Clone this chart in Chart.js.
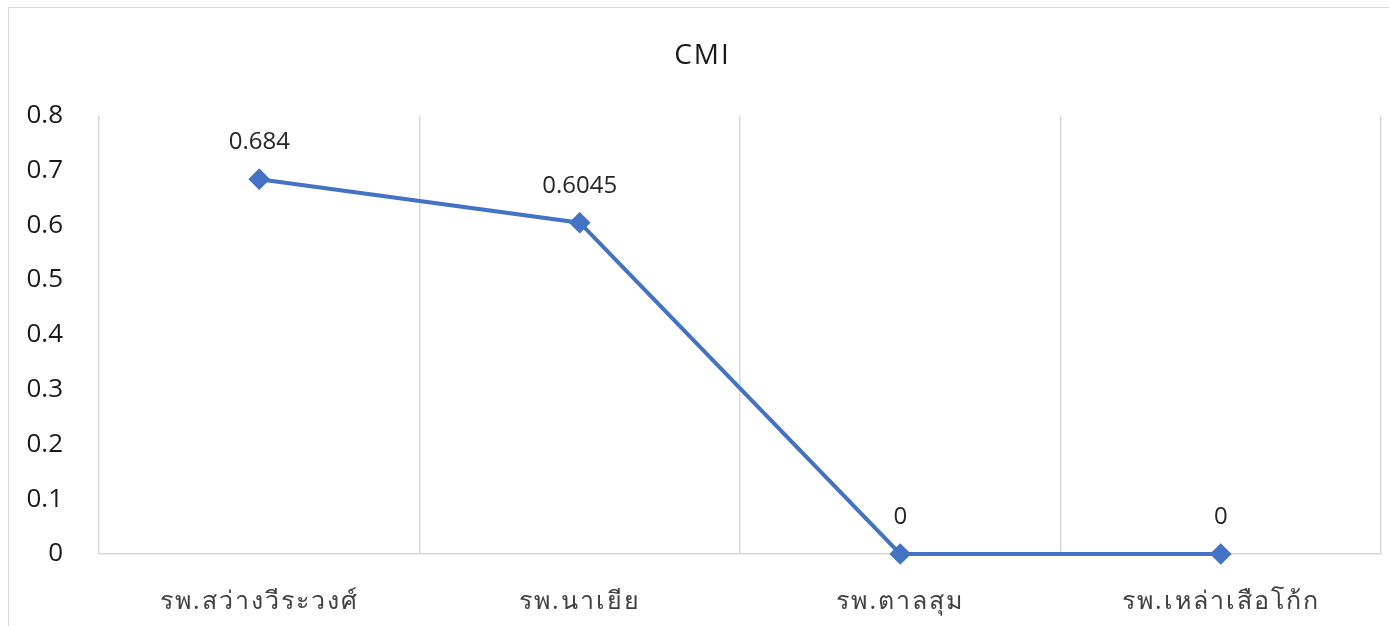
<!DOCTYPE html>
<html>
<head>
<meta charset="utf-8">
<script src="https://cdn.jsdelivr.net/npm/chart.js@4/dist/chart.umd.min.js"></script>
<style>
  html, body { margin: 0; padding: 0; background: #fff; overflow: hidden; }
  #frame {
    position: absolute; left: 8px; top: 7px;
    width: 1390px; height: 640px;
    border: 1px solid #d9d9d9;
  }
  canvas { display: block; }
</style>
</head>
<body>
<div id="frame"><canvas id="cmiChart" width="1390" height="640"></canvas></div>
<script>
// chart data
const hospitals = ["รพ.สว่างวีระวงศ์", "รพ.นาเยีย", "รพ.ตาลสุม", "รพ.เหล่าเสือโก้ก"];
const cmiValues = [0.684, 0.6045, 0, 0];
const cmiLabels = ["0.684", "0.6045", "0", "0"];
const yTicks = [0, 0.1, 0.2, 0.3, 0.4, 0.5, 0.6, 0.7, 0.8];

const FONT = "'Open Sans', 'Noto Sans', sans-serif";

// -----------------------------
// spacing for title + category labels, value labels above points
// -----------------------------
const textSpacing = {
  id: "textSpacing",
  beforeDraw(chart) {
    chart.ctx.letterSpacing = "2px";
  },
  afterDatasetsDraw(chart) {
    const ctx = chart.ctx;
    ctx.letterSpacing = "0px";
    const meta = chart.getDatasetMeta(0);
    ctx.save();
    ctx.font = "24px " + FONT;
    ctx.fillStyle = "#262626";
    ctx.textAlign = "center";
    ctx.textBaseline = "middle";
    meta.data.forEach((pt, i) => {
      ctx.fillText(cmiLabels[i], pt.x, pt.y - 37);
    });
    ctx.restore();
  }
};

new Chart(document.getElementById("cmiChart"), {
  type: "line",
  data: {
    labels: hospitals,
    datasets: [{
      label: "CMI",
      data: cmiValues,
      borderColor: "#4472C4",
      backgroundColor: "#4472C4",
      borderWidth: 4,
      pointStyle: "rectRot",
      pointRadius: 8,
      pointHoverRadius: 8,
      tension: 0,
      clip: false
    }]
  },
  options: {
    responsive: false,
    devicePixelRatio: 1,
    animation: false,
    layout: { padding: { left: 0, right: 3, top: 0, bottom: 0 } },
    plugins: {
      legend: { display: false },
      tooltip: { enabled: false },
      title: {
        display: true,
        text: "CMI",
        color: "#1a1a1a",
        font: { family: FONT, size: 28, weight: "normal" },
        padding: { top: 31, bottom: 43 }
      }
    },
    scales: {
      x: {
        offset: true,
        grid: { display: true, color: "#d9d9d9", lineWidth: 1.5, drawTicks: false, offset: true },
        border: { display: true, color: "#d9d9d9", width: 1.5 },
        ticks: { color: "#404040", font: { family: FONT, size: 25 }, padding: 33 },
        afterFit(scale) { scale.height = 94; }
      },
      y: {
        min: 0,
        max: 0.8,
        grid: { display: false, drawTicks: false },
        border: { display: false },
        afterBuildTicks(scale) { scale.ticks = yTicks.map(v => ({ value: v })); },
        ticks: {
          z: 1,
          color: "#1a1a1a",
          font: { family: FONT, size: 26 },
          padding: 36,
          callback: v => String(v)
        },
        afterFit(scale) { scale.width = 90; }
      },
      // empty right margin so the title stays centred on the whole frame
      yRight: {
        position: "right",
        display: true,
        grid: { display: false, drawTicks: false },
        border: { display: false },
        ticks: { display: false },
        afterFit(scale) { scale.width = 15; }
      }
    }
  },
  plugins: [textSpacing]
});
</script>
</body>
</html>
